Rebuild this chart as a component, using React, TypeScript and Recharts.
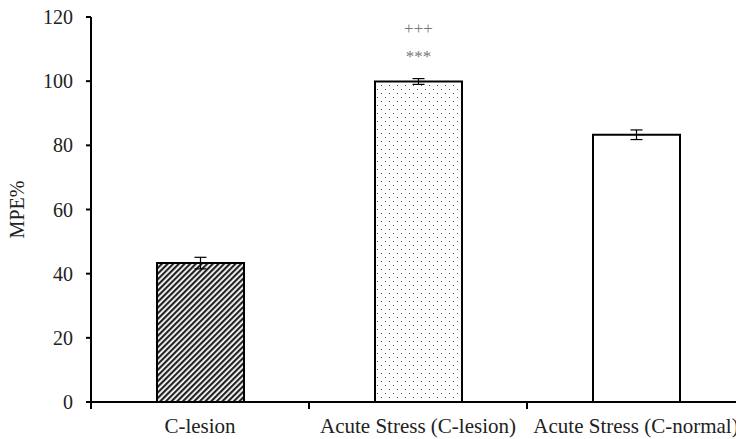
import { BarChart, Bar, XAxis, YAxis, Cell, ErrorBar, LabelList } from 'recharts';

const categories = ['C-lesion', 'Acute Stress (C-lesion)', 'Acute Stress (C-normal)'];
const mpeMeans = [43.3, 99.9, 83.3];
const mpeErrors = [1.8, 0.9, 1.5];
const starMarks = ['', '***', ''];
const plusMarks = ['', '+++', ''];
const yTicks = [0, 20, 40, 60, 80, 100, 120];

const fills = ['url(#hatch)', 'url(#dots)', '#ffffff'];
const font = '"Liberation Serif", "Times New Roman", serif';

const data = categories.map((name, i) => ({
  name,
  mpe: mpeMeans[i],
  err: mpeErrors[i],
  stars: starMarks[i],
  plus: plusMarks[i],
}));

const BAND = 218;

function CatTick(props: any) {
  const { x, y, payload } = props;
  const left = x - BAND / 2;
  return (
    <g>
      <line x1={left} y1={403} x2={left} y2={409} stroke="#000" strokeWidth={2} />
      <text x={x} y={y + 23} textAnchor="middle" fontFamily={font} fontSize={21} fill="#222">
        {payload.value}
      </text>
    </g>
  );
}

function Marks(props: any) {
  const { x, y, width, index } = props;
  if (!starMarks[index]) return null;
  const cx = x + width / 2;
  return (
    <g fontFamily={font} fontSize={17} fill="#777" textAnchor="middle">
      <text x={cx} y={y - 47}>{plusMarks[index]}</text>
      <text x={cx} y={y - 19}>{starMarks[index]}</text>
    </g>
  );
}

export default function App() {
  return (
    <div
      style={{
        position: 'absolute',
        left: 0,
        top: 0,
        width: 736,
        height: 439,
        overflow: 'hidden',
        background: '#fff',
      }}
    >
      <svg width={0} height={0} style={{ position: 'absolute' }}>
        <defs>
          <pattern id="hatch" width={4} height={4} patternUnits="userSpaceOnUse" patternTransform="rotate(45)">
            <rect width={4} height={4} fill="#fff" />
            <rect width={2.2} height={4} fill="#222" />
          </pattern>
          <pattern id="dots" width={8} height={8} patternUnits="userSpaceOnUse">
            <rect width={8} height={8} fill="#fff" />
            <rect x={1} y={1} width={1} height={1} fill="#555" />
            <rect x={5} y={5} width={1} height={1} fill="#555" />
          </pattern>
        </defs>
      </svg>
      <BarChart
        width={760}
        height={439}
        data={data}
        margin={{ top: 17, right: 15, left: 0, bottom: 0 }}
        barSize={87}
      >
        <XAxis
          dataKey="name"
          height={37}
          axisLine={{ stroke: '#000', strokeWidth: 2 }}
          tickLine={false}
          tick={<CatTick />}
          interval={0}
        />
        <YAxis
          width={91}
          domain={[0, 120]}
          ticks={yTicks}
          interval={0}
          axisLine={{ stroke: '#000', strokeWidth: 2 }}
          tickLine={{ stroke: '#000', strokeWidth: 2 }}
          tickSize={5}
          tickMargin={13}
          tick={{ fontFamily: font, fontSize: 20, fill: '#222' }}
          label={{
            value: 'MPE%',
            angle: -90,
            position: 'insideLeft',
            dx: 12,
            style: { fontFamily: font, fontSize: 20, fill: '#222', textAnchor: 'middle' },
          }}
        />
        <Bar dataKey="mpe" stroke="#000" strokeWidth={2} isAnimationActive={false}>
          {data.map((d, i) => (
            <Cell key={d.name} fill={fills[i]} />
          ))}
          <ErrorBar dataKey="err" width={6} stroke="#000" strokeWidth={1.2} direction="y" />
          <LabelList dataKey="stars" content={<Marks />} />
        </Bar>
      </BarChart>
    </div>
  );
}
